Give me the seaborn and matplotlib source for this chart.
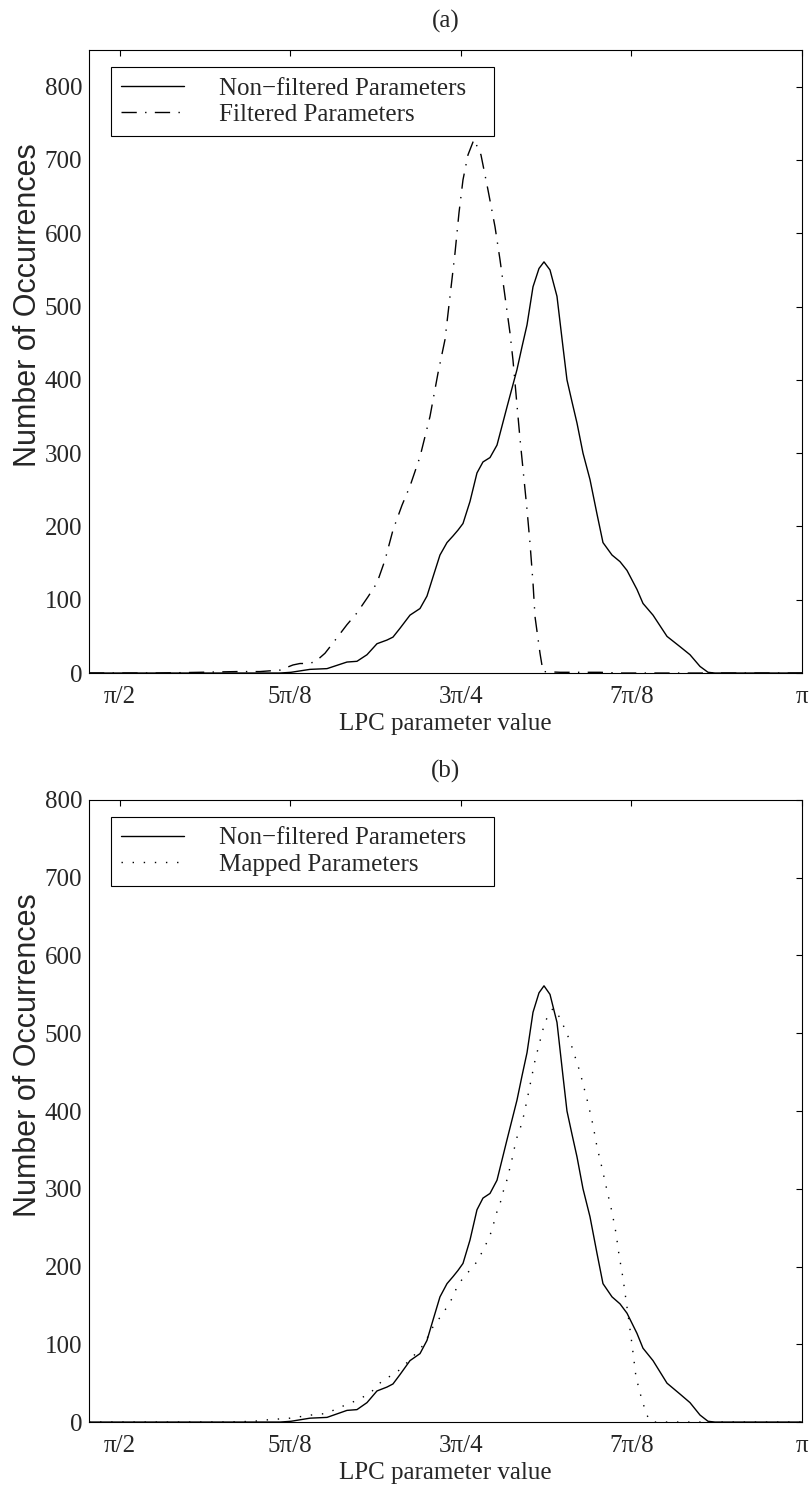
import numpy as np
import pandas as pd
import matplotlib
matplotlib.use("Agg")
import matplotlib.pyplot as plt
import seaborn as sns

sns.set_style("white")
plt.rcParams["font.family"] = ["Liberation Serif", "DejaVu Serif"]
plt.rcParams["lines.scale_dashes"] = False

# LPC parameter value (radians) -> number of occurrences
nonfiltered_x = [1.5000, 1.9398, 1.9651, 2.0088, 2.0480, 2.0940, 2.1170, 2.1401,
                 2.1631, 2.1861, 2.1999, 2.2160, 2.2391, 2.2621, 2.2782, 2.2920,
                 2.3081, 2.3243, 2.3381, 2.3496, 2.3611, 2.3772, 2.3933, 2.4071,
                 2.4233, 2.4394, 2.4624, 2.4854, 2.4969, 2.5085, 2.5223, 2.5361,
                 2.5476, 2.5614, 2.5775, 2.5913, 2.6005, 2.6121, 2.6236, 2.6374,
                 2.6535, 2.6696, 2.6834, 2.7042, 2.7226, 2.7387, 2.7617, 2.7755,
                 2.7986, 2.8308, 2.8607, 2.8837, 2.9068, 2.9252, 2.9413, 3.1416]
nonfiltered_y = [0, 0, 1, 5, 6, 15, 16, 25,
                 40, 45, 49, 61, 79, 88, 105, 131,
                 161, 178, 187, 195, 204, 234, 273, 288,
                 294, 311, 363, 414, 445, 475, 527, 552,
                 561, 550, 514, 445, 400, 370, 341, 300,
                 264, 217, 178, 161, 152, 140, 114, 95,
                 79, 50, 36, 25, 9, 1, 0, 0]

filtered_x = [1.5000, 1.6635, 1.7556, 1.8408, 1.8937, 1.9398, 1.9697, 1.9858,
              2.0019, 2.0203, 2.0434, 2.0618, 2.0940, 2.1170, 2.1424, 2.1631,
              2.1815, 2.1999, 2.2207, 2.2391, 2.2621, 2.2851, 2.3035, 2.3197,
              2.3312, 2.3427, 2.3519, 2.3611, 2.3726, 2.3864, 2.4025, 2.4187,
              2.4348, 2.4463, 2.4578, 2.4693, 2.4762, 2.4923, 2.5085, 2.5154,
              2.5223, 2.5269, 2.5384, 2.5453, 2.5844, 2.6765, 2.7226, 3.1416]
filtered_y = [0, 0, 1, 2, 2, 4, 11, 13,
              13, 15, 27, 41, 66, 82, 104, 123,
              154, 195, 229, 255, 295, 350, 409, 455,
              514, 573, 628, 673, 707, 728, 707, 659,
              609, 564, 514, 464, 427, 320, 223, 177,
              123, 77, 27, 2, 1, 1, 0, 0]

mapped_x = [1.5000, 1.8200, 1.8799, 1.9144, 1.9628, 2.0111, 2.0457, 2.0825,
            2.1170, 2.1470, 2.1769, 2.2068, 2.2391, 2.2713, 2.2943, 2.3104,
            2.3243, 2.3381, 2.3473, 2.3634, 2.3818, 2.3956, 2.4071, 2.4187,
            2.4279, 2.4348, 2.4417, 2.4509, 2.4555, 2.4647, 2.4693, 2.4762,
            2.4808, 2.4877, 2.4969, 2.5085, 2.5269, 2.5499, 2.5683, 2.5844,
            2.6075, 2.6305, 2.6489, 2.6604, 2.6696, 2.6811, 2.6926, 2.7042,
            2.7134, 2.7203, 2.7295, 2.7364, 2.7433, 2.7502, 2.7594, 2.7732,
            2.7847, 2.7916, 2.8032, 3.1416]
mapped_y = [0, 0, 1, 3, 5, 9, 11, 20,
            28, 37, 54, 63, 80, 100, 125, 136,
            148, 161, 174, 187, 198, 208, 221, 234,
            247, 262, 275, 288, 301, 315, 328, 343,
            356, 371, 384, 414, 465, 515, 532, 520,
            490, 450, 410, 382, 354, 327, 298, 270,
            243, 215, 185, 157, 129, 100, 58, 28,
            9, 1, 0, 0]

xtick_values = [np.pi / 2, 5 * np.pi / 8, 3 * np.pi / 4, 7 * np.pi / 8, np.pi]
xtick_labels = ["π/2", "5π/8", "3π/4", "7π/8", "π"]
ytick_values = list(range(0, 801, 100))

FS = 18
DASHDOT = (0, (11, 6, 1, 6))
DOTTED = (0, (1, 7))

fig = plt.figure(figsize=(8.11, 14.90), dpi=100)
ax_a = fig.add_axes([0.1097, 0.5483, 0.8792, 0.4181])
ax_b = fig.add_axes([0.1097, 0.0456, 0.8792, 0.4175])


def draw_curve(ax, xs, ys, label, ls):
    df = pd.DataFrame({"x": xs, "y": ys})
    sns.lineplot(data=df, x="x", y="y", ax=ax, color="black", linewidth=1.0,
                 linestyle=ls, label=label, estimator=None, sort=False)


def style_axes(ax, title, ytop):
    ax.set_xlim(1.5, np.pi)
    ax.set_ylim(0, ytop)
    ax.set_xticks(xtick_values)
    ax.set_xticklabels(xtick_labels)
    ax.set_yticks(ytick_values)
    ax.tick_params(direction="in", top=True, right=True, length=4.5,
                   width=0.8, labelsize=FS, color="black")
    ax.tick_params(axis="x", pad=9)
    ax.tick_params(axis="y", pad=5)
    for s in ax.spines.values():
        s.set_visible(True)
        s.set_color("black")
        s.set_linewidth(0.8)
    ax.set_title(title, fontsize=FS, pad=16)
    ax.set_xlabel("LPC parameter value", fontsize=FS, labelpad=4)
    ax.set_ylabel("Number of Occurrences", fontsize=22,
                  family=["Liberation Sans", "DejaVu Sans"])
    ax.yaxis.set_label_coords(-0.064, 0.59)
    handles, labels = ax.get_legend_handles_labels()
    leg = ax.legend(handles, labels, loc="upper left",
                    bbox_to_anchor=(0.031, 0.0, 0.537, 1 - 17 / 623),
                    mode="expand", borderaxespad=0, fontsize=FS,
                    handlelength=2.5, handletextpad=1.4, borderpad=0.4,
                    labelspacing=0.15, fancybox=False, framealpha=1,
                    edgecolor="black")
    leg.get_frame().set_linewidth(0.8)


draw_curve(ax_a, nonfiltered_x, nonfiltered_y, "Non−filtered Parameters", "-")
draw_curve(ax_a, filtered_x, filtered_y, "Filtered Parameters", DASHDOT)
style_axes(ax_a, "(a)", 850)

draw_curve(ax_b, nonfiltered_x, nonfiltered_y, "Non−filtered Parameters", "-")
draw_curve(ax_b, mapped_x, mapped_y, "Mapped Parameters", DOTTED)
style_axes(ax_b, "(b)", 800)

fig.savefig("out.png", dpi=100)
